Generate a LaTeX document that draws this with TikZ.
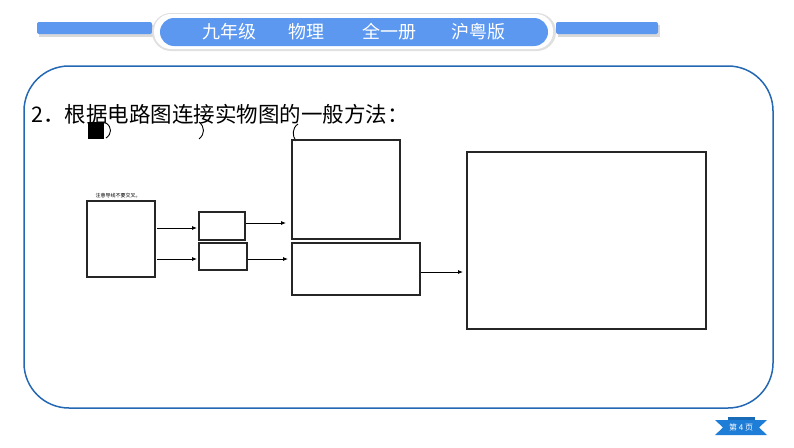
\documentclass[tikz,border=0pt]{standalone}
\usepackage{fontspec}
\newfontfamily\cjk{Noto Sans CJK SC}
\usetikzlibrary{arrows.meta}
\definecolor{hdrblue}{RGB}{92,152,240}
\definecolor{rimblue}{RGB}{36,104,180}
\definecolor{ribblue}{RGB}{30,125,215}
\tikzset{
  box/.style={draw=black!85, line width=1.1pt},
  conn/.style={draw=black, line width=0.8pt, -{Latex[length=5pt,width=4pt]}},
  hdrtext/.style={text=white, font=\cjk\fontsize{18}{18}\selectfont, inner sep=0pt},
  bar/.style={fill=hdrblue, rounded corners=2pt},
}
\begin{document}
\begin{tikzpicture}[x=1pt,y=-1pt]
\useasboundingbox (0,0) rectangle (794,447);
\fill[white] (0,0) rectangle (794,447);
% header bars with shadow
\fill[black!15] (39,25) rectangle (153,37);
\fill[black!15] (558,25) rectangle (660,37);
\path[bar] (37,22) rectangle (152,34);
\path[bar] (556,22) rectangle (658,34);
% header pill
\fill[black!12, rounded corners=19pt] (152,13) rectangle (556,51);
\fill[white, rounded corners=17pt] (154,14) rectangle (553,49);
\fill[hdrblue, rounded corners=14pt] (160,18) rectangle (548,46);
\node[hdrtext] (h1) at (229,32) {九年级};
\node[hdrtext] (h2) at (306,32) {物理};
\node[hdrtext] (h3) at (389,32) {全一册};
\node[hdrtext] (h4) at (478,32) {沪粤版};
% main frame
\draw[rimblue, line width=1.5pt, rounded corners=45pt] (24,66) rectangle (773,408);
% title
\node[anchor=base west, inner sep=0pt, font=\cjk\fontsize{21.5}{21.5}\selectfont] (title) at (31,122) {2．根据电路图连接实物图的一般方法：};
% artifacts
\fill[black] (88,122) rectangle (104,139);
\draw[black, line width=0.9pt] (106,123) .. controls (112,127) and (112,134) .. (106,138);
\draw[black, line width=0.9pt] (199,122) .. controls (205,127) and (205,134) .. (199,139);
\draw[black, line width=0.9pt] (298,124) .. controls (292,128) and (292,136) .. (296,141);
% boxes
\node[box, minimum width=68pt, minimum height=76pt, inner sep=0pt] (b1) at (121,239) {};
\node[font=\cjk\fontsize{5}{5}\selectfont, inner sep=0pt] (note) at (118,196) {注意导线不要交叉。};
\node[box, minimum width=46pt, minimum height=28pt, inner sep=0pt] (b2) at (222,226) {};
\node[box, minimum width=48pt, minimum height=27pt, inner sep=0pt] (b3) at (223,256.5) {};
\node[box, minimum width=108pt, minimum height=99pt, inner sep=0pt] (b4) at (346,189.5) {};
\node[box, minimum width=128pt, minimum height=52pt, inner sep=0pt] (b5) at (356,269) {};
\node[box, minimum width=239pt, minimum height=177pt, inner sep=0pt] (b6) at (586.5,240.5) {};
% connectors
\coordinate (a1s) at (157,228); \coordinate (a1e) at (197,228);
\coordinate (a2s) at (157,259); \coordinate (a2e) at (197,259);
\coordinate (a3s) at (246,223); \coordinate (a3e) at (286,223);
\coordinate (a4s) at (248,259); \coordinate (a4e) at (288,259);
\coordinate (a5s) at (421,272); \coordinate (a5e) at (463,272);
\draw[conn] (a1s) -- (a1e);
\draw[conn] (a2s) -- (a2e);
\draw[conn] (a3s) -- (a3e);
\draw[conn] (a4s) -- (a4e);
\draw[conn] (a5s) -- (a5e);
% footer ribbon
\fill[ribblue] (715,420) -- (767,420) -- (759,427.5) -- (767,435) -- (715,435) -- (723,427.5) -- cycle;
\fill[ribblue!85!black] (728,417) rectangle (755,420);
\node[text=white, font=\cjk\fontsize{8}{8}\selectfont, inner sep=0pt] (pg) at (741,427.5) {第 4 页};
\end{tikzpicture}
\end{document}
